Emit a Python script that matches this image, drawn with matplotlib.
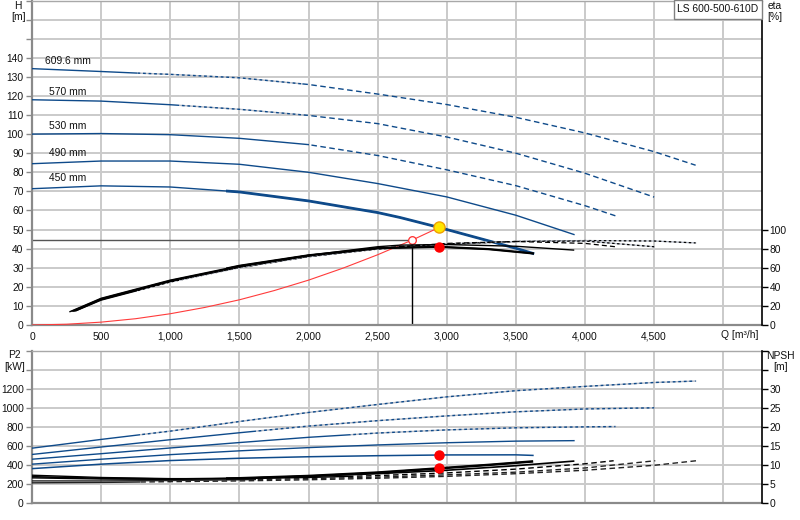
import matplotlib
matplotlib.use('Agg')
import matplotlib.pyplot as plt
from matplotlib.patches import Rectangle

plt.rcParams['font.family'] = ['Liberation Sans', 'DejaVu Sans']

# ---------------- data ----------------
diam_labels = ['609.6 mm', '570 mm', '530 mm', '490 mm', '450 mm']

# Head H [m] vs Q [m3/h]
q_h_6096 = [0, 500, 750, 1000, 1500, 2000, 2500, 3000, 3500, 4000, 4500, 4800]
h_6096 = [134.3, 132.8, 132.0, 131.3, 129.5, 126.0, 121.0, 115.5, 108.8, 100.6, 90.8, 83.7]
q_h_570 = [0, 500, 1000, 1500, 2000, 2500, 3000, 3500, 4000, 4500]
h_570 = [118.0, 117.3, 115.4, 113.0, 109.8, 105.5, 98.5, 90.0, 79.5, 67.0]
q_h_530 = [0, 500, 1000, 1500, 2000, 2500, 3000, 3500, 4000, 4220]
h_530 = [100.0, 100.3, 99.7, 97.8, 94.5, 88.8, 81.3, 73.0, 62.5, 57.2]
q_h_490 = [0, 500, 1000, 1500, 2000, 2500, 3000, 3500, 3920]
h_490 = [84.5, 85.9, 85.9, 84.2, 80.0, 74.1, 67.1, 57.5, 47.4]
q_h_450 = [0, 500, 1000, 1500, 2000, 2500, 2663, 2945, 3500, 3623]
h_450 = [71.4, 72.9, 72.3, 69.7, 65.0, 58.9, 56.3, 51.1, 40.2, 37.5]

# Efficiency eta [%]
q_e_6096 = [320, 500, 1000, 1500, 2000, 2500, 3000, 3500, 4000, 4500, 4800]
e_6096 = [15.0, 26.0, 45.0, 60.0, 71.5, 79.5, 84.5, 87.5, 88.5, 88.0, 86.0]
q_e_570 = [310, 500, 1000, 1500, 2000, 2500, 3000, 3500, 4000, 4500]
e_570 = [14.5, 26.5, 45.5, 60.5, 72.0, 80.0, 85.0, 87.5, 88.0, 82.0]
q_e_530 = [300, 500, 1000, 1500, 2000, 2500, 3000, 3500, 4000, 4219]
e_530 = [14.5, 27.0, 46.0, 61.0, 72.5, 80.5, 85.5, 87.5, 85.5, 82.0]
q_e_490 = [290, 500, 1000, 1500, 2000, 2500, 2663, 3000, 3500, 3917]
e_490 = [14.5, 27.5, 46.5, 61.5, 73.0, 82.0, 83.7, 84.3, 82.5, 78.5]
q_e_450 = [275, 500, 1000, 1500, 2000, 2500, 2945, 3300, 3623]
e_450 = [14.0, 28.0, 47.0, 62.0, 73.0, 80.5, 81.9, 79.5, 75.0]

# Power P2 [kW]
q_p_6096 = [0, 500, 1000, 1500, 2000, 2500, 3000, 3500, 4000, 4500, 4800]
p_6096 = [576, 668, 755, 856, 951, 1035, 1115, 1180, 1225, 1266, 1281]
q_p_570 = [0, 500, 1000, 1500, 2000, 2500, 3000, 3500, 4000, 4500]
p_570 = [510, 588, 665, 738, 808, 865, 915, 958, 988, 1000]
q_p_530 = [0, 500, 1000, 1500, 2000, 2500, 3000, 3500, 4000, 4220]
p_530 = [460, 518, 578, 635, 690, 735, 768, 790, 800, 803]
q_p_490 = [0, 500, 1000, 1500, 2000, 2500, 3000, 3500, 3920]
p_490 = [408, 460, 508, 548, 582, 610, 633, 650, 655]
q_p_450 = [0, 500, 1000, 1500, 2000, 2500, 3000, 3500, 3623]
p_450 = [361, 408, 446, 470, 486, 497, 505, 506, 500]

# NPSH [m]
q_n_6096 = [0, 500, 1000, 1500, 2000, 2500, 3000, 3500, 4000, 4500, 4805]
n_6096 = [5.3, 5.4, 5.6, 5.8, 6.1, 6.5, 7.0, 7.7, 8.6, 9.9, 11.1]
q_n_570 = [0, 500, 1000, 1500, 2000, 2500, 3000, 3500, 4000, 4508]
n_570 = [5.8, 5.8, 5.9, 6.1, 6.4, 6.8, 7.4, 8.1, 9.2, 11.1]
q_n_530 = [0, 500, 1000, 1500, 2000, 2500, 3000, 3500, 4000, 4207]
n_530 = [7.3, 6.7, 6.4, 6.4, 6.7, 7.2, 7.9, 8.9, 10.3, 11.1]
q_n_490 = [0, 500, 1000, 1500, 2000, 2500, 3000, 3500, 3917]
n_490 = [6.9, 6.5, 6.3, 6.5, 7.0, 7.7, 8.6, 9.8, 11.0]
q_n_450 = [0, 500, 1000, 1500, 2000, 2500, 2945, 3300, 3616]
n_450 = [6.6, 6.3, 6.2, 6.5, 7.1, 8.0, 9.1, 10.0, 10.9]

# System curve (red)
q_sys = [0, 250, 500, 750, 1000, 1250, 1500, 1750, 2000, 2250, 2500, 2750, 2945]
h_sys = [0, 0.4, 1.5, 3.3, 5.9, 9.2, 13.2, 18.0, 23.5, 29.8, 36.8, 44.5, 51.1]

duty_q, duty_h = 2750, 44.5
op_q, op_h, op_eta, op_p2, op_npsh = 2945, 51.1, 81.9, 505, 9.1

x_ticks = [0, 500, 1000, 1500, 2000, 2500, 3000, 3500, 4000, 4500, 5000]
x_ticklabels = ['0', '500', '1,000', '1,500', '2,000', '2,500', '3,000', '3,500',
                '4,000', '4,500', '']
h_ticks = list(range(0, 171, 10))
eta_ticks = [0, 20, 40, 60, 80, 100]
p2_ticks = list(range(0, 1601, 200))
npsh_ticks = list(range(0, 41, 5))
title = 'LS 600-500-610D'

# ---------------- style ----------------
BLUE = '#0e4a8a'
UNDER = '#b6bcc8'
GRID = '#cacaca'
FS = 7.4
W, H = 800, 520

fig = plt.figure(figsize=(8, 5.2), dpi=100)
ax = fig.add_axes([32 / W, 1 - 325 / H, 730 / W, 324.5 / H])
ax2 = fig.add_axes([32 / W, 1 - 503 / H, 730 / W, (503 - 350.7) / H])
ax_eta = ax.twinx()
ax_n = ax2.twinx()

XMAX = 5280


def seg_line(a, q, v, parts, color, lw, z=3):
    for q0, q1, kind in parts:
        lines = []
        if kind == 'solid':
            lines.append(a.plot(q, v, color=color, lw=lw, zorder=z,
                                solid_joinstyle='round')[0])
        elif kind == 'dot':
            lines.append(a.plot(q, v, color=UNDER, lw=lw, zorder=z)[0])
            lines.append(a.plot(q, v, color=color, lw=lw, ls=(0, (2, 2)), zorder=z)[0])
        elif kind == 'dash':
            lines.append(a.plot(q, v, color=color, lw=lw, ls=(0, (4, 2.5)), zorder=z)[0])
        for ln in lines:
            r = Rectangle((q0, -1e5), q1 - q0, 2e5, transform=a.transData)
            ln.set_clip_path(r)


# grid lines (drawn manually under everything)
for a, yt in ((ax, h_ticks), (ax2, p2_ticks)):
    for xv in x_ticks:
        a.axvline(xv, color=GRID, lw=1.4, zorder=0.5)
    for yv in yt:
        a.axhline(yv, color=GRID, lw=1.4, zorder=0.5)

# ---- top chart: head ----
seg_line(ax, q_h_6096, h_6096, [(0, 760, 'solid'), (760, 1950, 'dot'), (1950, 5000, 'dash')], BLUE, 1.0)
seg_line(ax, q_h_570, h_570, [(0, 1060, 'solid'), (1060, 1980, 'dot'), (1980, 5000, 'dash')], BLUE, 1.0)
seg_line(ax, q_h_530, h_530, [(0, 2000, 'solid'), (2000, 5000, 'dash')], BLUE, 1.0)
seg_line(ax, q_h_490, h_490, [(0, 5000, 'solid')], BLUE, 1.0)
seg_line(ax, q_h_450, h_450, [(0, 5000, 'solid')], BLUE, 1.0)
seg_line(ax, q_h_450, h_450, [(1400, 5000, 'solid')], BLUE, 2.0)

label_y = [h_6096[0], h_570[0], h_530[0], h_490[1], h_450[1]]
for lab, yv, dx in zip(diam_labels, label_y, [95, 120, 120, 120, 120]):
    ax.text(dx, yv + 4.0, lab, fontsize=FS, ha='left', va='center', color='#111')

# system curve and duty point
ax.plot(q_sys, h_sys, color='#ff3b3b', lw=0.8, zorder=4)
ax.plot([0, duty_q], [duty_h, duty_h], color='#555555', lw=1.0, zorder=2)
ax.plot([duty_q, duty_q], [0, duty_h], color='black', lw=1.0, zorder=2)
ax.plot(duty_q, duty_h, 'o', ms=5.5, mfc='white', mec='#ff2a2a', mew=0.9, zorder=6)
ax.plot(op_q, op_h, 'o', ms=8, mfc='#ffe600', mec='#f0a000', mew=1.0, zorder=7)

# ---- efficiency ----
seg_line(ax_eta, q_e_6096, e_6096, [(0, 760, 'solid'), (760, 5000, 'dot')], 'black', 0.9)
seg_line(ax_eta, q_e_570, e_570, [(0, 1060, 'solid'), (1060, 5000, 'dot')], 'black', 0.9)
seg_line(ax_eta, q_e_530, e_530, [(0, 2000, 'solid'), (2000, 5000, 'dash')], 'black', 0.9)
seg_line(ax_eta, q_e_490, e_490, [(0, 5000, 'solid')], 'black', 1.0)
seg_line(ax_eta, q_e_450, e_450, [(0, 5000, 'solid')], 'black', 1.0)
seg_line(ax_eta, q_e_450, e_450, [(1400, 5000, 'solid')], 'black', 1.6)
ax_eta.plot(op_q, op_eta, 'o', ms=6.5, color='#ff0000', zorder=7)

# ---- bottom chart: power ----
seg_line(ax2, q_p_6096, p_6096, [(0, 780, 'solid'), (780, 5000, 'dot')], BLUE, 1.0)
seg_line(ax2, q_p_570, p_570, [(0, 1620, 'solid'), (1620, 5000, 'dot')], BLUE, 1.0)
seg_line(ax2, q_p_530, p_530, [(0, 2300, 'solid'), (2300, 5000, 'dot')], BLUE, 1.0)
seg_line(ax2, q_p_490, p_490, [(0, 5000, 'solid')], BLUE, 1.0)
seg_line(ax2, q_p_450, p_450, [(0, 5000, 'solid')], BLUE, 1.1)
ax2.plot(op_q, op_p2, 'o', ms=6.5, color='#ff0000', zorder=7)

# ---- NPSH ----
seg_line(ax_n, q_n_6096, n_6096, [(0, 780, 'solid'), (780, 5000, 'dash')], '#222222', 1.0)
seg_line(ax_n, q_n_570, n_570, [(0, 1620, 'solid'), (1620, 5000, 'dash')], '#222222', 1.0)
seg_line(ax_n, q_n_530, n_530, [(0, 2300, 'solid'), (2300, 5000, 'dash')], 'black', 1.0)
seg_line(ax_n, q_n_490, n_490, [(0, 5000, 'solid')], 'black', 1.2)
seg_line(ax_n, q_n_450, n_450, [(0, 5000, 'solid')], 'black', 1.0)
seg_line(ax_n, q_n_450, n_450, [(1400, 5000, 'solid')], 'black', 1.8)
ax_n.plot(op_q, op_npsh, 'o', ms=6.5, color='#ff0000', zorder=7)

# ---------------- axes styling ----------------
for a in (ax, ax2):
    a.set_xlim(0, XMAX)
    a.set_xticks(x_ticks)
    a.spines['left'].set_color('#8a8a8a')
    a.spines['left'].set_linewidth(1.6)
    a.spines['bottom'].set_color('#8a8a8a')
    a.spines['bottom'].set_linewidth(1.6)
    a.spines['top'].set_color('#a8a8a8')
    a.spines['top'].set_linewidth(1.0)
    a.spines['right'].set_visible(False)
    a.tick_params(axis='y', direction='out', length=4, width=1, color='#8a8a8a',
                  pad=2, labelsize=FS, labelcolor='#111')

for t in (ax_eta, ax_n):
    for s in ('left', 'top', 'bottom'):
        t.spines[s].set_visible(False)
    t.spines['right'].set_color('black')
    t.spines['right'].set_linewidth(1.2)
    t.tick_params(axis='y', direction='out', length=4, width=1, color='black',
                  pad=1.5, labelsize=FS, labelcolor='#111')

# top
ax.set_ylim(0, 170)
ax.set_yticks(h_ticks)
ax.set_yticklabels([str(v) if v <= 140 else '' for v in h_ticks])
ax.set_xticklabels(x_ticklabels)
ax.tick_params(axis='x', length=0, pad=5, labelsize=FS, labelcolor='#111')
ax_eta.set_ylim(0, 340)
ax_eta.set_yticks(eta_ticks)

# bottom
ax2.set_ylim(0, 1600)
ax2.set_yticks(p2_ticks)
ax2.set_yticklabels([str(v) if v <= 1200 else '' for v in p2_ticks])
ax2.tick_params(axis='x', length=0, labelbottom=False)
ax_n.set_ylim(0, 40)
ax_n.set_yticks(npsh_ticks)
ax_n.set_yticklabels([str(v) if v <= 30 else '' for v in npsh_ticks])


def ftext(x, y, s, **kw):
    fig.text(x / W, 1 - y / H, s, fontsize=FS, color='#111', ha='center', va='center', **kw)


ftext(18, 6, 'H')
ftext(18, 17, '[m]')
ftext(775, 6, 'eta')
ftext(775, 17, '[%]')
ftext(14.5, 355, 'P2')
ftext(14.5, 367, '[kW]')
ftext(780, 356, 'NPSH')
ftext(781, 367, '[m]')
ftext(740, 335, 'Q [m\u00b3/h]')

# title box
fig.patches.append(Rectangle((674 / W, 1 - 19 / H), (762 - 674) / W, 19 / H,
                             transform=fig.transFigure, facecolor='white',
                             edgecolor='#808080', lw=1.0, zorder=10))
fig.text(677 / W, 1 - 8.5 / H, title, fontsize=FS, color='#111', ha='left',
         va='center', zorder=11)

fig.savefig('out.png', dpi=100)
